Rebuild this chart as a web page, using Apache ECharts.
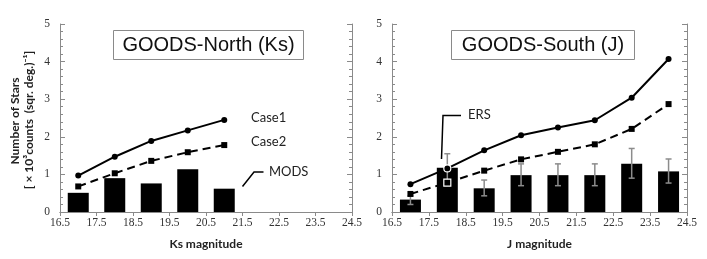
<!DOCTYPE html>
<html><head><meta charset="utf-8">
<script src="https://cdn.jsdelivr.net/npm/echarts@6/dist/echarts.min.js"></script>
<style>html,body{margin:0;padding:0;background:#fff}#c{width:707px;height:259px}</style>
</head><body><div id="c"></div>
<script>
const magsN = [17, 18, 19, 20, 21];
const case1N = [0.97, 1.47, 1.89, 2.17, 2.45];
const case2N = [0.68, 1.03, 1.36, 1.59, 1.78];
const modsN = [0.51, 0.90, 0.76, 1.14, 0.62];

const magsS = [17, 18, 19, 20, 21, 22, 23, 24];
const case1S = [0.74, 1.16, 1.64, 2.04, 2.25, 2.44, 3.04, 4.07];
const case2S = [0.48, 0.78, 1.10, 1.40, 1.60, 1.80, 2.21, 2.87];
const ersS = [0.33, 1.18, 0.63, 0.98, 0.98, 0.98, 1.28, 1.08];
const ersLo = [0.20, 0.80, 0.43, 0.70, 0.70, 0.70, 0.90, 0.77];
const ersHi = [0.43, 1.55, 0.85, 1.28, 1.28, 1.28, 1.69, 1.41];

const xTicks = ['16.5','17.5','18.5','19.5','20.5','21.5','22.5','23.5','24.5'];
const yTicks = ['0','1','2','3','4','5'];

const AX = '#8a8a8a';
const serif = 'Liberation Serif';
const sans = 'Lato';

function xAxisFor(gi, name) {
  return [{
    type: 'value', gridIndex: gi, min: parseFloat(xTicks[0]), max: parseFloat(xTicks[xTicks.length-1]), interval: 1,
    name: name, nameLocation: 'middle', nameGap: 26,
    nameTextStyle: {fontFamily: sans, fontWeight: 'bold', fontSize: 12, color: '#222'},
    axisLine: {show: true, lineStyle: {color: AX, width: 1}},
    axisTick: {show: true, length: 4, lineStyle: {color: AX}},
    axisLabel: {fontFamily: serif, fontSize: 11.5, color: '#333', margin: 5,
      formatter: v => v.toFixed(1)},
    splitLine: {show: false}
  }, {
    type: 'value', gridIndex: gi, position: 'top', min: parseFloat(xTicks[0]), max: parseFloat(xTicks[xTicks.length-1]), interval: 1,
    axisLine: {show: true, lineStyle: {color: AX, width: 1}},
    axisTick: {show: false}, axisLabel: {show: false}, splitLine: {show: false}
  }];
}
function yAxisFor(gi) {
  return [{
    type: 'value', gridIndex: gi, min: 0, max: 5, interval: 1,
    axisLine: {show: true, lineStyle: {color: AX, width: 1}},
    axisTick: {show: true, inside: true, length: 5, lineStyle: {color: AX}},
    minorTick: {show: true, splitNumber: 5, length: 3, lineStyle: {color: AX}},
    axisLabel: {fontFamily: serif, fontSize: 11.5, color: '#333', margin: 10, formatter: v => yTicks[v]},
    splitLine: {show: false}
  }, {
    type: 'value', gridIndex: gi, position: 'right', min: 0, max: 5, interval: 1,
    axisLine: {show: true, lineStyle: {color: AX, width: 1}},
    axisTick: {show: true, inside: true, length: 5, lineStyle: {color: AX}},
    minorTick: {show: true, splitNumber: 5, length: 3, lineStyle: {color: AX}},
    axisLabel: {show: false}, splitLine: {show: false}
  }];
}

const xAxes = xAxisFor(0, 'Ks magnitude').concat(xAxisFor(1, 'J magnitude'));
const yAxes = yAxisFor(0).concat(yAxisFor(1));

function pairs(xs, ys) { return xs.map((x, i) => [x, ys[i]]); }

const errData = magsS.map((x, i) => [x, ersLo[i], ersHi[i]]);

const hollow = {color: '#000', borderColor: '#fff', borderWidth: 1.2};
const case1SData = pairs(magsS, case1S).map((p, i) => i === 1 ? {value: p, symbolSize: 7, itemStyle: hollow} : p);
const case2SData = pairs(magsS, case2S).map((p, i) => i === 1 ? {value: p, symbolSize: 7, itemStyle: hollow} : p);

const option = {
  animation: false,
  backgroundColor: '#fff',
  grid: [
    {left: 60, top: 24, width: 292, height: 188},
    {left: 392, top: 24, width: 295, height: 188}
  ],
  xAxis: xAxes,
  yAxis: yAxes,
  series: [
    {type: 'bar', name: 'MODS', xAxisIndex: 0, yAxisIndex: 0, data: pairs(magsN, modsN), barWidth: 21, itemStyle: {color: '#000'}, z: 2},
    {type: 'line', name: 'Case1', xAxisIndex: 0, yAxisIndex: 0, data: pairs(magsN, case1N), symbol: 'circle', symbolSize: 6,
      lineStyle: {color: '#000', width: 2}, itemStyle: {color: '#000'}, z: 4},
    {type: 'line', name: 'Case2', xAxisIndex: 0, yAxisIndex: 0, data: pairs(magsN, case2N), symbol: 'rect', symbolSize: 6,
      lineStyle: {color: '#000', width: 2, type: [8, 5]}, itemStyle: {color: '#000'}, z: 4},

    {type: 'bar', name: 'ERS', xAxisIndex: 2, yAxisIndex: 2, data: pairs(magsS, ersS), barWidth: 21, itemStyle: {color: '#000'}, z: 2},
    {type: 'custom', name: 'ERS err', xAxisIndex: 2, yAxisIndex: 2, data: errData, z: 3,
      renderItem: function (params, api) {
        const x = api.value(0);
        const lo = api.coord([x, api.value(1)]);
        const hi = api.coord([x, api.value(2)]);
        const w = 3;
        const st = {stroke: '#8c8c8c', lineWidth: 1.5};
        return {type: 'group', children: [
          {type: 'line', shape: {x1: hi[0], y1: hi[1], x2: lo[0], y2: lo[1]}, style: st},
          {type: 'line', shape: {x1: hi[0]-w, y1: hi[1], x2: hi[0]+w, y2: hi[1]}, style: st},
          {type: 'line', shape: {x1: lo[0]-w, y1: lo[1], x2: lo[0]+w, y2: lo[1]}, style: st}
        ]};
      }},
    {type: 'line', name: 'Case1S', xAxisIndex: 2, yAxisIndex: 2, data: case1SData, symbol: 'circle', symbolSize: 6,
      lineStyle: {color: '#000', width: 2}, itemStyle: {color: '#000'}, z: 4},
    {type: 'line', name: 'Case2S', xAxisIndex: 2, yAxisIndex: 2, data: case2SData, symbol: 'rect', symbolSize: 6,
      lineStyle: {color: '#000', width: 2, type: [8, 5]}, itemStyle: {color: '#000'}, z: 4}
  ],
  graphic: [
    {type: 'rect', shape: {x: 113.5, y: 30.5, width: 190, height: 29}, style: {fill: '#fff', stroke: AX, lineWidth: 1}, z: 10},
    {type: 'text', x: 208.5, y: 45, z: 11, style: {text: 'GOODS-North (Ks)', font: '20px "Liberation Sans", Arial, sans-serif', fill: '#111', align: 'center', verticalAlign: 'middle'}},
    {type: 'rect', shape: {x: 451.5, y: 30.5, width: 183, height: 29}, style: {fill: '#fff', stroke: AX, lineWidth: 1}, z: 10},
    {type: 'text', x: 543, y: 45, z: 11, style: {text: 'GOODS-South (J)', font: '20px "Liberation Sans", Arial, sans-serif', fill: '#111', align: 'center', verticalAlign: 'middle'}},

    {type: 'text', x: 251, y: 118, style: {text: 'Case1', font: '13px Lato, sans-serif', fill: '#222', verticalAlign: 'middle'}},
    {type: 'text', x: 251, y: 141.5, style: {text: 'Case2', font: '13px Lato, sans-serif', fill: '#222', verticalAlign: 'middle'}},
    {type: 'text', x: 269, y: 172, style: {text: 'MODS', font: '13px Lato, sans-serif', fill: '#222', verticalAlign: 'middle'}},
    {type: 'polyline', shape: {points: [[242.5, 186.5], [254, 172], [263.5, 172]]}, style: {stroke: '#000', lineWidth: 1.5, fill: null}},

    {type: 'text', x: 468, y: 115, style: {text: 'ERS', font: '13px Lato, sans-serif', fill: '#222', verticalAlign: 'middle'}},
    {type: 'polyline', shape: {points: [[441.5, 159], [443, 115.5], [461, 115.5]]}, style: {stroke: '#000', lineWidth: 1.5, fill: null}},

    {type: 'text', x: 15, y: 121, rotation: Math.PI/2, style: {text: 'Number of Stars', font: 'bold 12px Lato, sans-serif', fill: '#222', align: 'center', verticalAlign: 'middle'}},
    {type: 'text', x: 29, y: 120, rotation: Math.PI/2, style: {text: '[ \u00d7 10\u00b3counts  (sqr. deg.)\u207b\u00b9]', font: 'bold 12px Lato, sans-serif', fill: '#222', align: 'center', verticalAlign: 'middle'}}
  ]
};
const chart = echarts.init(document.getElementById('c'), null, {renderer: 'canvas'});
chart.setOption(option);
</script></body></html>
